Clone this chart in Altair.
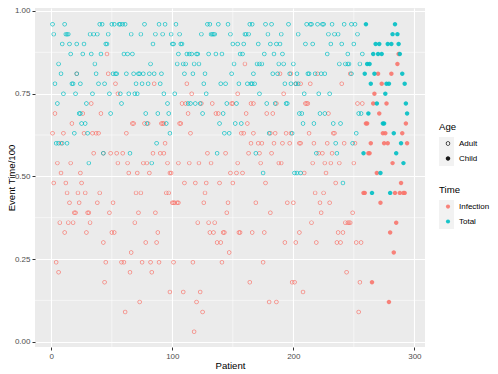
import altair as alt
import pandas as pd

# hundredths of event time -> patient numbers
total_adult = {
    96: [1,11,40,42,50,52,56,57,59,61,77,89,94,103,129,131,138,146,164,166,177,182,196,211,214,215,220,224,225,232,242,248,251],
    93: [2,12,13,14,32,35,38,47,66,74,86,92,99,106,124,132,133,134,135,148,160,161,163,179,190,204,229,234,237,253],
    90: [9,15,21,27,45,46,84,100,101,107,108,150,154,159,171,181,186,189,210,216,231,240,250],
    87: [16,26,33,41,60,63,67,105,112,114,116,120,121,130,136,141,156,158,176,184,191,228,245,257],
    84: [6,36,82,104,109,111,118,122,151,170,172,174,188,192,200,238,243,245,246,255],
    81: [8,21,37,51,53,54,62,68,72,73,76,81,85,91,110,117,127,149,167,183,187,197,203,212,213,218,223,226,248],
    78: [3,17,18,24,39,44,70,75,80,90,126,140,144,155,162,165,166,168,193,198,202,204],
    75: [10,20,34,48,57,64,69,71,93,102,128,172,209,221,230],
    72: [5,29,58,96,113,115,119,123,145,153,178,185,194,195],
    69: [23,24,49,78,88,97,125,142,205,207,222,226,254,256],
    66: [25,28,79,95,139,152,157,208,217,233,239],
    63: [19,30,98,143,147,180,199,252],
    60: [4,6,9,13,87,235,249],
    57: [43,65,137,169,219,236],
    54: [31,83],
    51: [175,201,203,206],
    48: [241],
}
total_child = {
    96: [260,284], 93: [282,286], 90: [268,271,278,281,287], 87: [266,270,273,288],
    84: [261,263], 81: [259,267,290], 78: [264,277,279,292], 75: [276], 72: [269,293],
    69: [262,294], 66: [274,275], 63: [283], 60: [289], 57: [258,285], 54: [291],
    51: [272], 45: [265,280],
}
infection_adult = {
    87: [46], 84: [160], 81: [21,47,189,198,220,247], 78: [53,85,112,202,206,214,240],
    75: [55,116,154,192], 72: [33,108,111,124,133,149,150,165,167,186,210,211,212,253,257],
    69: [3,26,41,113,136,138,161,178,183,229], 66: [17,67,68,77,80,91,92,93,106,107,162],
    63: [1,10,27,34,37,39,62,115,157,159,167,181,185,194,198,213,233,234],
    60: [8,94,165,171,174,184,191,197,205,206,217,228,242,251],
    57: [35,43,49,54,59,84,90,93,129,144,163,172,182,221,224,232],
    54: [5,16,55,63,76,79,96,105,114,122,132,154,173,188,190,216,226,231,238,250],
    51: [8,24,64,71,81,98,99,148,153,158,209,227],
    48: [2,12,25,110,119,128,139,150,177,235],
    45: [13,22,28,40,70,74,95,97,127,218,225],
    42: [15,23,38,51,100,101,102,104,105,126,146,169,195,200,222,230],
    39: [19,20,30,31,48,72,86,145,181,223,249],
    36: [7,14,18,32,69,121,130,135,215,243,245,246,247],
    33: [11,29,50,52,88,131,134,142,143,155,156,166,176,205,237,241],
    30: [43,78,87,137,140,193,202,219,236,239,252,256],
    27: [66,147], 24: [4,45,58,60,75,82,89,101,117,141,175], 21: [6,65,83,244],
    18: [44,164,199,201,255], 15: [98,109,123,208], 12: [73,120,180,186],
    9: [61,125,254], 3: [118],
}
infection_child = {
    87: [287], 84: [286], 81: [270,281], 78: [273], 75: [267], 72: [266,277], 69: [271],
    66: [260,261,293], 63: [274,276,290], 60: [264,275,278,294], 57: [262,263], 54: [282],
    51: [269], 48: [289], 45: [258,259,284,288,291,292], 42: [272], 36: [285], 33: [280],
    27: [283], 18: [265], 12: [279],
}
x_ticks = [0, 100, 200, 300]
x_minor = [50, 150, 250]
y_ticks = [0, 0.25, 0.5, 0.75, 1]
y_minor = [0.125, 0.375, 0.625, 0.875]

rows = []
for group, age, time in [(infection_adult, "Adult", "Infection"), (total_adult, "Adult", "Total"),
                         (infection_child, "Child", "Infection"), (total_child, "Child", "Total")]:
    for t, patients in group.items():
        for p in patients:
            rows.append({"Patient": p, "EventTime": t / 100, "Age": age, "Time": time})
df = pd.DataFrame(rows)

FONT = "Liberation Sans"
x_scale = alt.Scale(domain=[-13.5, 308.8], nice=False, zero=False)
y_scale = alt.Scale(domain=[-0.016, 1.009], nice=False, zero=False)
x_axis = alt.Axis(values=x_ticks, format="d", titlePadding=0)
y_axis = alt.Axis(values=y_ticks, format=".2f", titleX=-19, titleAnchor="middle")

RING = "M -1 0 A 1 1 0 1 1 1 0 A 1 1 0 1 1 -1 0 Z M -0.68 0 A 0.68 0.68 0 1 0 0.68 0 A 0.68 0.68 0 1 0 -0.68 0 Z"
DISC = "M -1 0 A 1 1 0 1 1 1 0 A 1 1 0 1 1 -1 0 Z"

minor_x = alt.Chart(pd.DataFrame({"Patient": x_minor})).mark_rule(color="white", strokeWidth=0.55).encode(
    x=alt.X("Patient:Q", scale=x_scale, title="Patient", axis=x_axis))
minor_y = alt.Chart(pd.DataFrame({"EventTime": y_minor})).mark_rule(color="white", strokeWidth=0.55).encode(
    y=alt.Y("EventTime:Q", scale=y_scale, title="Event Time/100", axis=y_axis))

one = pd.DataFrame({"k": [0]})
age_keys = alt.Chart(one).mark_rect(color="#F2F2F2").encode(
    x=alt.value(404), x2=alt.value(419), y=alt.value(129), y2=alt.value(158))
time_keys = alt.Chart(one).mark_rect(color="#F2F2F2").encode(
    x=alt.value(404), x2=alt.value(419), y=alt.value(192), y2=alt.value(221))

points = alt.Chart(df).mark_point(filled=True, opacity=0.9, size=20).encode(
    x=alt.X("Patient:Q", scale=x_scale, title="Patient", axis=x_axis),
    y=alt.Y("EventTime:Q", scale=y_scale, title="Event Time/100", axis=y_axis),
    color=alt.Color("Time:N",
                    scale=alt.Scale(domain=["Infection", "Total"], range=["#F8766D", "#00BFC4"]),
                    legend=alt.Legend(orient="none", legendX=404, legendY=177, symbolType="circle",
                                      symbolSize=17, symbolOffset=5, symbolStrokeWidth=0)),
    shape=alt.Shape("Age:N",
                    scale=alt.Scale(domain=["Adult", "Child"], range=[RING, DISC]),
                    legend=alt.Legend(orient="none", legendX=404, legendY=114, symbolSize=20,
                                      symbolOffset=5, symbolFillColor="black", symbolStrokeWidth=0)),
)

chart = alt.layer(age_keys, time_keys, minor_x, minor_y, points).properties(
    width=390, height=339,
    padding={"left": 27, "top": 0, "right": 65, "bottom": 25},
    autosize=alt.AutoSizeParams(type="none"),
).configure_view(fill="#EBEBEB", stroke=None).configure_axis(
    grid=True, gridColor="white", gridWidth=1.1, domain=False,
    tickColor="#333333", tickSize=3, tickWidth=1,
    labelColor="#4D4D4D", labelFont=FONT, labelFontSize=8, labelPadding=2,
    titleColor="black", titleFont=FONT, titleFontSize=9.6, titleFontWeight="normal",
).configure_legend(
    titleColor="black", titleFont=FONT, titleFontSize=9.6, titleFontWeight="normal", titlePadding=8,
    labelColor="black", labelFont=FONT, labelFontSize=8, labelOffset=7, rowPadding=6.9, padding=0,
)

chart.save("out.html", embed_options={"renderer": "svg", "actions": False})
